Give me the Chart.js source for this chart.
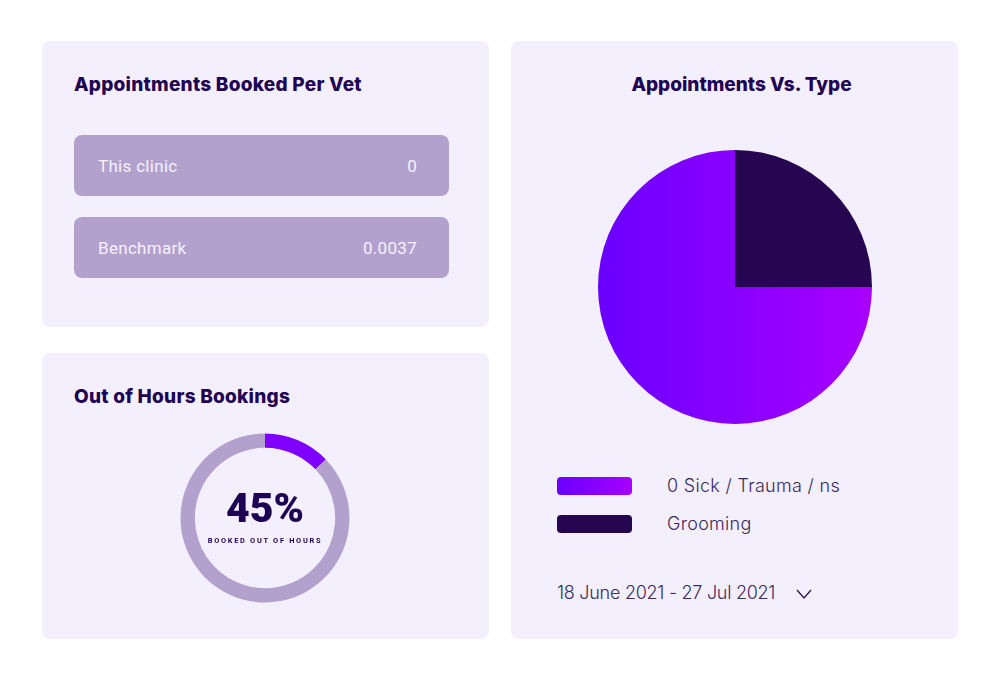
<!DOCTYPE html>
<html>
<head>
<meta charset="utf-8">
<script src="https://cdn.jsdelivr.net/npm/chart.js@4"></script>
<style>
  html, body { margin: 0; padding: 0; background: #ffffff; }
  body { position: relative; width: 1000px; height: 679px; overflow: hidden; font-family: Inter, sans-serif; color: #1f0353; }
  .card { position: absolute; background: #f4effc; border-radius: 8px; }
  .title { position: absolute; font-family: Inter, sans-serif; font-weight: 800; font-size: 19px; line-height: 24px; letter-spacing: 0.25px; white-space: nowrap; color: #1f0353; }
  .row { position: absolute; left: 74px; width: 375px; height: 61px; background: #b2a1cc; border-radius: 8px; color: #f6f1fd; font-family: Roboto, sans-serif; font-size: 17px; line-height: 63px; letter-spacing: 0.3px; }
  .row span { position: absolute; }
  .row .name { left: 24px; }
  .row .val { right: 32px; }
  canvas { position: absolute; }
  .big { position: absolute; left: 165px; width: 200px; top: 486px; text-align: center; font-family: Roboto, sans-serif; font-weight: 900; font-size: 41px; line-height: 44px; color: #1f0353; }
  .small { position: absolute; left: 165px; width: 200px; top: 535px; text-align: center; font-family: Roboto, sans-serif; font-weight: 700; font-size: 7.4px; line-height: 12px; letter-spacing: 1.7px; white-space: nowrap; color: #1f0353; }
  .swatch { position: absolute; left: 557px; width: 75px; height: 18px; border-radius: 4px; }
  .legend { position: absolute; left: 667px; font-family: Inter, sans-serif; font-weight: 300; font-size: 18px; line-height: 24px; letter-spacing: 0.3px; color: #3a2a5e; white-space: nowrap; }
  .dates { position: absolute; left: 557px; top: 581px; font-family: Inter, sans-serif; font-weight: 300; font-size: 18px; line-height: 24px; letter-spacing: -0.27px; color: #3a2a5e; white-space: nowrap; }
  .chev { position: absolute; left: 796px; top: 589px; }
</style>
</head>
<body>
<div class="card" style="left:42px;top:41px;width:447px;height:286px"></div>
<div class="card" style="left:42px;top:353px;width:447px;height:286px"></div>
<div class="card" style="left:511px;top:41px;width:447px;height:598px"></div>

<div class="title" style="left:74px;top:73px">Appointments Booked Per Vet</div>
<div class="title" style="left:74px;top:385px">Out of Hours Bookings</div>
<div class="title" style="left:511px;width:461px;top:73px;text-align:center;letter-spacing:0">Appointments Vs. Type</div>

<div id="rows"></div>

<canvas id="donut"></canvas>
<div class="big" id="bigText"></div>
<div class="small" id="smallText"></div>

<canvas id="pie"></canvas>
<div id="legend"></div>
<div class="dates" id="dates"></div>
<svg class="chev" width="16" height="10" viewBox="0 0 16 10"><polyline points="1,1 8,9 15,1" fill="none" stroke="#2a1650" stroke-width="1.3"/></svg>

<script>
const vetLabels = ['This clinic', 'Benchmark']
const vetValues = ['0', '0.0037']

const outOfHoursLabels = ['Out of hours', 'Other']
const outOfHoursValues = [12.8, 87.2]
const outOfHoursText = '45%'
const outOfHoursCaption = 'BOOKED OUT OF HOURS'

const typeLabels = ['Grooming', '0 Sick / Trauma / ns']
const typeValues = [25, 75]
const dateRange = '18 June 2021 - 27 Jul 2021'

const DARK = '#260650'
const GREY = '#b2a1cc'

function placeCanvas(id, left, top, size) {
  const c = document.getElementById(id)
  c.style.left = left + 'px'
  c.style.top = top + 'px'
  c.style.width = size + 'px'
  c.style.height = size + 'px'
  c.width = size
  c.height = size
  return c
}

function sweepGradient(ctx, area) {
  const g = ctx.createLinearGradient(area.left, 0, area.right, 0)
  g.addColorStop(0, '#6a00ff')
  g.addColorStop(1, '#a800ff')
  return g
}

// rows
document.getElementById('rows').innerHTML = vetLabels.map((l, i) =>
  `<div class="row" style="top:${135 + i * 82}px"><span class="name">${l}</span><span class="val">${vetValues[i]}</span></div>`
).join('')

document.getElementById('bigText').textContent = outOfHoursText
document.getElementById('smallText').textContent = outOfHoursCaption
document.getElementById('dates').textContent = dateRange

// legend, sick first as in the layout
const swatchBg = ['linear-gradient(90deg,#6a00ff,#a800ff)', DARK]
document.getElementById('legend').innerHTML = [typeLabels[1], typeLabels[0]].map((l, i) =>
  `<div class="swatch" style="top:${477 + i * 38}px;background:${swatchBg[i]}"></div>` +
  `<div class="legend" style="top:${474 + i * 38}px">${l}</div>`
).join('')

Chart.defaults.animation = false

new Chart(placeCanvas('pie', 591, 143, 288), {
  type: 'pie',
  data: {
    labels: typeLabels,
    datasets: [{
      data: typeValues,
      borderWidth: 0,
      backgroundColor: c => c.dataIndex === 0 ? DARK : (c.chart.chartArea ? sweepGradient(c.chart.ctx, c.chart.chartArea) : '#8a00ff')
    }]
  },
  options: {
    responsive: false,
    layout: { padding: 7 },
    plugins: { legend: { display: false }, tooltip: { enabled: false } }
  }
})

new Chart(placeCanvas('donut', 175, 428, 180), {
  type: 'doughnut',
  data: {
    labels: outOfHoursLabels,
    datasets: [{
      data: outOfHoursValues,
      borderWidth: 0,
      backgroundColor: ['#8000ff', GREY]
    }]
  },
  options: {
    responsive: false,
    cutout: '83%',
    layout: { padding: 5.5 },
    plugins: { legend: { display: false }, tooltip: { enabled: false } }
  }
})
</script>
</body>
</html>
